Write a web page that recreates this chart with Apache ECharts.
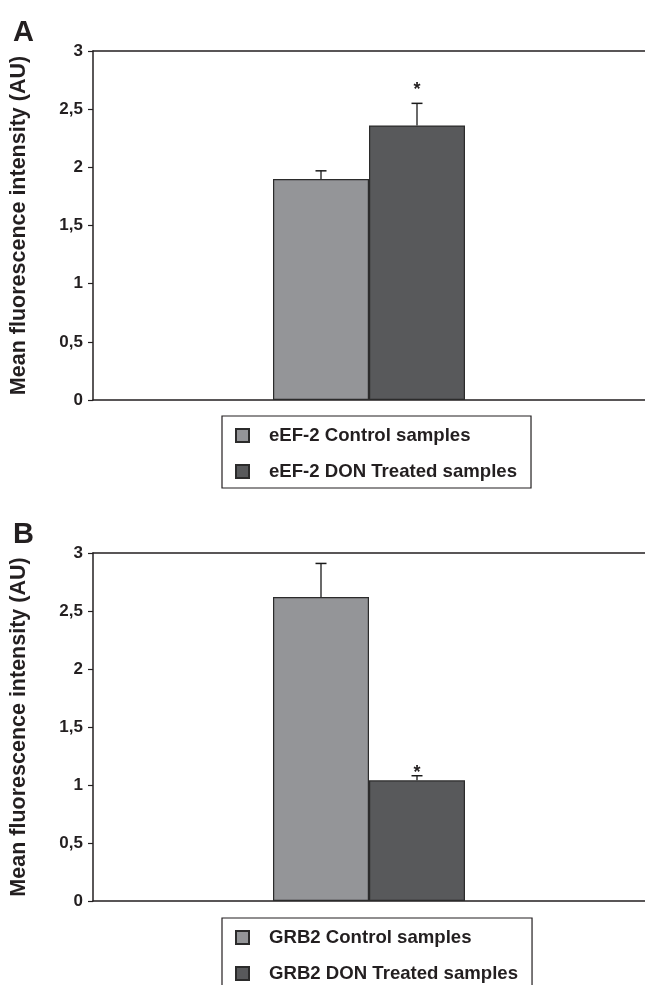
<!DOCTYPE html>
<html>
<head>
<meta charset="utf-8">
<script src="https://cdn.jsdelivr.net/npm/echarts@6/dist/echarts.min.js"></script>
<style>
html,body{margin:0;padding:0;background:#fff;}
#chart{width:645px;height:985px;}
</style>
</head>
<body>
<div id="chart"></div>
<script>
// ---- Data ----
const panelLetters = ['A', 'B'];
const categoriesA = ['eEF-2'];
const categoriesB = ['GRB2'];
const seriesNamesA = ['eEF-2 Control samples', 'eEF-2 DON Treated samples'];
const seriesNamesB = ['GRB2 Control samples', 'GRB2 DON Treated samples'];
const controlA = [1.90];
const treatedA = [2.36];
const controlErrA = [0.07];
const treatedErrA = [0.19];
const controlB = [2.62];
const treatedB = [1.04];
const controlErrB = [0.29];
const treatedErrB = [0.04];
// significance marker: level (y value) at which the "*" sits, null = none
const starA = [null, 2.70];   // control, treated
const starB = [null, 1.14];
const yTicks = [0, 0.5, 1, 1.5, 2, 2.5, 3];
const yAxisTitle = 'Mean fluorescence intensity (AU)';

// ---- Style ----
const FONT = '"Liberation Sans", Arial, sans-serif';
const TEXT = '#231f20';
const AXIS = '#231f20';
const C_CTRL = '#949598';
const C_TRT = '#58595b';
const BAR_W = 96;

const chart = echarts.init(document.getElementById('chart'), null, {renderer: 'canvas'});

const grids = [
  {left: 93, top: 51, width: 554, height: 349},
  {left: 93, top: 553, width: 554, height: 348}
];

function yAxisFor(gi) {
  return {
    type: 'value', gridIndex: gi, min: yTicks[0], max: yTicks[yTicks.length - 1], interval: yTicks[1] - yTicks[0],
    name: yAxisTitle, nameLocation: 'middle', nameGap: 63, nameRotate: 90,
    nameTextStyle: {fontFamily: FONT, fontWeight: 'bold', fontSize: 21.5, color: TEXT},
    axisLine: {show: true, lineStyle: {color: AXIS, width: 1.5}},
    axisTick: {show: true, length: 5, lineStyle: {color: AXIS, width: 1.2}},
    axisLabel: {fontFamily: FONT, fontWeight: 'bold', fontSize: 17, color: TEXT, margin: 10,
      formatter: v => String(v).replace('.', ',')},
    splitLine: {show: false}
  };
}
function xAxisFor(gi, cats, pos) {
  return {
    type: 'category', gridIndex: gi, data: cats, position: pos,
    axisLine: {show: true, onZero: false, lineStyle: {color: AXIS, width: 1.5}},
    axisTick: {show: false}, axisLabel: {show: false}, splitLine: {show: false}
  };
}

function barSeries(name, data, color, gi) {
  return {
    type: 'bar', name: name, data: data, xAxisIndex: gi * 2, yAxisIndex: gi,
    barWidth: BAR_W, barGap: '0%',
    itemStyle: {color: color, borderColor: '#2b2b2b', borderWidth: 1.2},
    emphasis: {disabled: true}, animation: false
  };
}

function errorSeries(means, errs, offsetSign, star, gi) {
  const data = means.map((m, i) => [i, m, errs[i], star == null ? -1 : star]);
  return {
    type: 'custom', xAxisIndex: gi * 2, yAxisIndex: gi, z: 5, animation: false, silent: true,
    renderItem: function (params, api) {
      const idx = api.value(0);
      const mean = api.value(1);
      const err = api.value(2);
      const base = api.coord([idx, mean]);
      const topP = api.coord([idx, mean + err]);
      const x = base[0] + offsetSign * BAR_W / 2;
      const capHalf = 5.5;
      const children = [
        {type: 'line', shape: {x1: x, y1: base[1], x2: x, y2: topP[1]}, style: {stroke: '#1a1a1a', lineWidth: 1.3}},
        {type: 'line', shape: {x1: x - capHalf, y1: topP[1], x2: x + capHalf, y2: topP[1]}, style: {stroke: '#1a1a1a', lineWidth: 1.5}}
      ];
      const sv = api.value(3);
      if (sv >= 0) {
        const sp = api.coord([idx, sv]);
        children.push({type: 'text', style: {text: '*', x: x, y: sp[1] + 4, align: 'center', verticalAlign: 'middle',
          font: 'bold 18px ' + FONT, fill: TEXT}});
      }
      return {type: 'group', children: children};
    },
    data: data
  };
}

function legendFor(names, top) {
  return {
    data: names, orient: 'vertical', left: 222, top: top, height: 120,
    itemWidth: 13, itemHeight: 13, itemGap: 17, icon: 'rect',
    padding: [10, 14, 7, 13],
    borderColor: '#231f20', borderWidth: 1.2, backgroundColor: '#fff',
    textStyle: {fontFamily: FONT, fontWeight: 'bold', fontSize: 18.6, color: TEXT, padding: [0, 0, 0, 15]},
    selectedMode: false
  };
}

const option = {
  backgroundColor: '#fff',
  animation: false,
  textStyle: {fontFamily: FONT},
  title: [
    {text: panelLetters[0], left: 8, top: 13, textStyle: {fontFamily: FONT, fontWeight: 'bold', fontSize: 29, color: TEXT}},
    {text: panelLetters[1], left: 8, top: 515, textStyle: {fontFamily: FONT, fontWeight: 'bold', fontSize: 29, color: TEXT}}
  ],
  grid: grids,
  xAxis: [
    xAxisFor(0, categoriesA, 'bottom'), xAxisFor(0, categoriesA, 'top'),
    xAxisFor(1, categoriesB, 'bottom'), xAxisFor(1, categoriesB, 'top')
  ],
  yAxis: [yAxisFor(0), yAxisFor(1)],
  legend: [legendFor(seriesNamesA, 416), legendFor(seriesNamesB, 918)],
  series: [
    barSeries(seriesNamesA[0], controlA, C_CTRL, 0),
    barSeries(seriesNamesA[1], treatedA, C_TRT, 0),
    errorSeries(controlA, controlErrA, -1, starA[0], 0),
    errorSeries(treatedA, treatedErrA, 1, starA[1], 0),
    barSeries(seriesNamesB[0], controlB, C_CTRL, 1),
    barSeries(seriesNamesB[1], treatedB, C_TRT, 1),
    errorSeries(controlB, controlErrB, -1, starB[0], 1),
    errorSeries(treatedB, treatedErrB, 1, starB[1], 1)
  ]
};
chart.setOption(option);
</script>
</body>
</html>
